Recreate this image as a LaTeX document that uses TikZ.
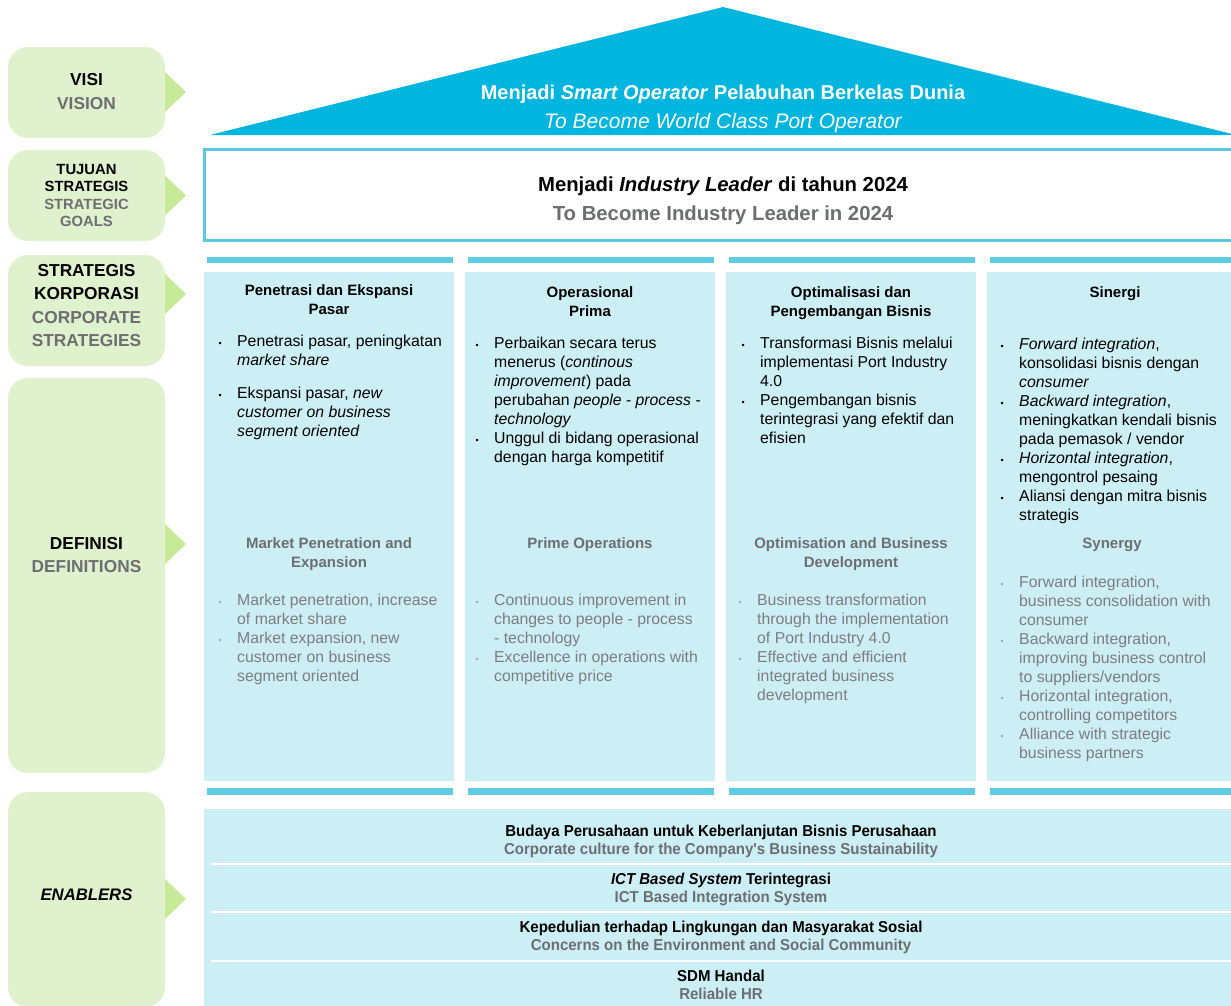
\documentclass[tikz,border=0pt]{standalone}
\usepackage{fontspec}
\setmainfont{Liberation Sans}
\newfontfamily\condfont[FakeStretch=0.95]{Liberation Sans}
\usetikzlibrary{calc,positioning}
\definecolor{roofblue}{RGB}{0,181,222}
\definecolor{goalblue}{RGB}{91,200,226}
\definecolor{colfill}{RGB}{204,239,245}
\definecolor{barblue}{RGB}{94,205,227}
\definecolor{lgreen}{RGB}{224,241,205}
\definecolor{ptrgreen}{RGB}{198,234,152}
\definecolor{txtgray}{RGB}{109,110,113}
\definecolor{defgray}{RGB}{125,125,128}
\definecolor{bulgray}{RGB}{165,165,168}
\newcommand{\bul}{\leavevmode\llap{{\fontsize{9}{9}\selectfont\textbullet}\hspace{15.5pt}}}
\newcommand{\gbul}{\leavevmode\llap{{\color{bulgray}\fontsize{9}{9}\selectfont\textbullet}\hspace{15.5pt}}}
\newcommand{\pointer}[1]{\fill[ptrgreen] (165,#1-20) -- (186,#1) -- (165,#1+20) -- cycle;}

\begin{document}
\begin{tikzpicture}[x=1pt,y=-1pt,
  lblbox/.style={fill=lgreen,rounded corners=20pt,minimum width=157pt,inner sep=0pt},
  lbltxt/.style={align=center,anchor=base,inner sep=0pt,font=\bfseries\fontsize{17.3}{23.5}\selectfont},
  rooftxt/.style={anchor=base,inner sep=0pt,text=white},
  coltitle/.style={align=center,anchor=base,inner sep=0pt,font=\bfseries\fontsize{15}{19}\selectfont},
  coltxt/.style={align=left,anchor=base west,inner sep=0pt,font=\fontsize{15.8}{19}\selectfont},
  deftitle/.style={coltitle,text=txtgray},
  deftxt/.style={coltxt,text=defgray},
  enbtxt/.style={align=center,anchor=base,inner sep=0pt,font=\condfont\bfseries\fontsize{15.8}{18}\selectfont}]
  \useasboundingbox (0,0) rectangle (1231,1005);
  \clip (0,0) rectangle (1231,1005);
  % left labels (multi-line texts sit on their last baseline)
  \node[lblbox,minimum height=91pt] (visi) at (86.5,92.5) {};
  \node[lblbox,minimum height=91pt] (tujuan) at (86.5,195.5) {};
  \node[lblbox,minimum height=111pt] (strat) at (86.5,310.5) {};
  \node[lblbox,minimum height=395pt] (defin) at (86.5,575.5) {};
  \node[lblbox,minimum height=215pt] (enab) at (86.5,899.5) {};
  \pointer{92}
  \pointer{195.5}
  \pointer{294}
  \pointer{544}
  \pointer{899}
  \node[lbltxt] (visit) at (86.5,109) {VISI\\\textcolor{txtgray}{VISION}};
  \node[lbltxt,font=\bfseries\fontsize{14.8}{17.3}\selectfont] (tujuant) at (86.5,226.5)
    {TUJUAN\\STRATEGIS\\\textcolor{txtgray}{STRATEGIC}\\\textcolor{txtgray}{GOALS}};
  \node[lbltxt] (stratt) at (86.5,346.5)
    {STRATEGIS\\KORPORASI\\\textcolor{txtgray}{CORPORATE}\\\textcolor{txtgray}{STRATEGIES}};
  \node[lbltxt] (defint) at (86.5,572.5) {DEFINISI\\\textcolor{txtgray}{DEFINITIONS}};
  \node[lbltxt,font=\bfseries\itshape\fontsize{16.7}{20}\selectfont] (enabt) at (86.5,900) {ENABLERS};
  % roof
  \fill[roofblue] (210,135) -- (723,7) -- (1236,135) -- cycle;
  \node[rooftxt,font=\bfseries\fontsize{20}{22}\selectfont] (vision) at (723,99)
    {Menjadi \textit{Smart Operator} Pelabuhan Berkelas Dunia};
  \node[rooftxt,font=\itshape\fontsize{21}{22}\selectfont] (visionen) at (723,128)
    {To Become World Class Port Operator};
  % goal
  \draw[goalblue,line width=2.5pt,fill=white] (204.5,149.5) rectangle (1240,240.5);
  \node[rooftxt,text=black,font=\bfseries\fontsize{20.3}{22}\selectfont] (goal) at (723,191)
    {Menjadi \textit{Industry Leader} di tahun 2024};
  \node[rooftxt,text=txtgray,font=\bfseries\fontsize{20.3}{22}\selectfont] (goalen) at (723,220)
    {To Become Industry Leader in 2024};
  % four columns
  \foreach \i in {0,...,3} {
    \fill[colfill] (204+261*\i,272) rectangle ++(250,509);
    \fill[barblue] (207+261*\i,257) rectangle ++(246,6);
    \fill[barblue] (207+261*\i,788) rectangle ++(246,7);
  }
  \node[coltitle] (c1t) at (329,314) {Penetrasi dan Ekspansi\\Pasar};
  \node[coltxt] (c1b) at (237,436) {\bul Penetrasi pasar, peningkatan\\\textit{market share}\\[14pt]
    \bul Ekspansi pasar, \textit{new}\\\textit{customer on business}\\\textit{segment oriented}};
  \node[coltitle] (c2t) at (590,316) {Operasional\\Prima};
  \node[coltxt] (c2b) at (494,462) {\bul Perbaikan secara terus\\menerus (\textit{continous}\\
    \textit{improvement}) pada\\perubahan \textit{people - process -}\\\textit{technology}\\
    \bul Unggul di bidang operasional\\dengan harga kompetitif};
  \node[coltitle] (c3t) at (851,316) {Optimalisasi dan\\Pengembangan Bisnis};
  \node[coltxt] (c3b) at (760,443) {\bul Transformasi Bisnis melalui\\implementasi Port Industry\\4.0\\
    \bul Pengembangan bisnis\\terintegrasi yang efektif dan\\efisien};
  \node[coltitle] (c4t) at (1115,297) {Sinergi};
  \node[coltxt] (c4b) at (1019,520) {\bul\textit{Forward integration},\\konsolidasi bisnis dengan\\\textit{consumer}\\
    \bul\textit{Backward integration},\\meningkatkan kendali bisnis\\pada pemasok / vendor\\
    \bul\textit{Horizontal integration},\\mengontrol pesaing\\
    \bul Aliansi dengan mitra bisnis\\strategis};
  % definitions
  \node[deftitle] (d1t) at (329,567) {Market Penetration and\\Expansion};
  \node[deftxt] (d1b) at (237,681) {\gbul Market penetration, increase\\of market share\\
    \gbul Market expansion, new\\customer on business\\segment oriented};
  \node[deftitle] (d2t) at (590,548) {Prime Operations};
  \node[deftxt] (d2b) at (494,681) {\gbul Continuous improvement in\\changes to people - process\\- technology\\
    \gbul Excellence in operations with\\competitive price};
  \node[deftitle] (d3t) at (851,567) {Optimisation and Business\\Development};
  \node[deftxt] (d3b) at (757,700) {\gbul Business transformation\\through the implementation\\of Port Industry 4.0\\
    \gbul Effective and efficient\\integrated business\\development};
  \node[deftitle] (d4t) at (1112,548) {Synergy};
  \node[deftxt] (d4b) at (1019,758) {\gbul Forward integration,\\business consolidation with\\consumer\\
    \gbul Backward integration,\\improving business control\\to suppliers/vendors\\
    \gbul Horizontal integration,\\controlling competitors\\
    \gbul Alliance with strategic\\business partners};
  % enablers
  \fill[colfill] (204,809) rectangle (1240,1010);
  \foreach \y in {864,912,961}
    \draw[white,line width=2.5pt] (211,\y) -- (1240,\y);
  \node[enbtxt] (e1) at (721,854) {Budaya Perusahaan untuk Keberlanjutan Bisnis Perusahaan\\
    \textcolor{txtgray}{Corporate culture for the Company's Business Sustainability}};
  \node[enbtxt] (e2) at (721,902) {\textit{ICT Based System} Terintegrasi\\
    \textcolor{txtgray}{ICT Based Integration System}};
  \node[enbtxt] (e3) at (721,950) {Kepedulian terhadap Lingkungan dan Masyarakat Sosial\\
    \textcolor{txtgray}{Concerns on the Environment and Social Community}};
  \node[enbtxt] (e4) at (721,999) {SDM Handal\\\textcolor{txtgray}{Reliable HR}};
\end{tikzpicture}
\end{document}
